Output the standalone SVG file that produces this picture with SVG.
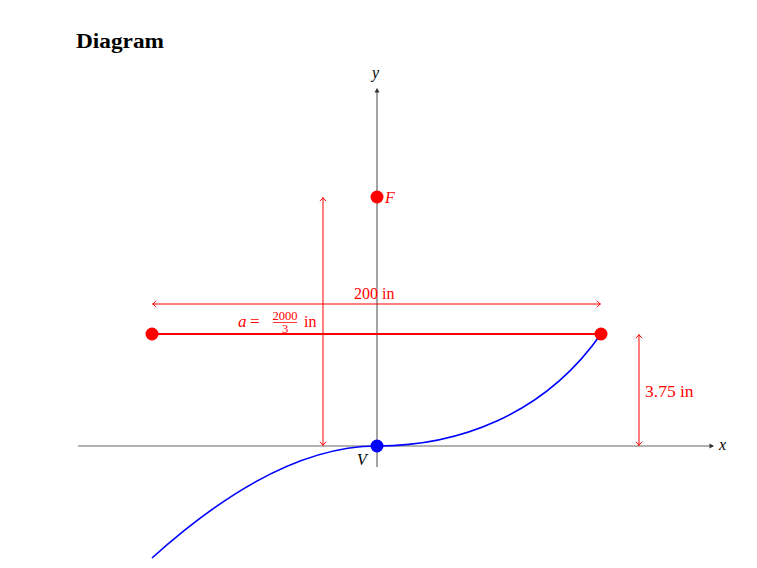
<svg xmlns="http://www.w3.org/2000/svg" width="757" height="568" viewBox="0 0 757 568">
<style>
text{font-family:"Liberation Serif","DejaVu Serif",serif;}
.lbl{fill:#ff0000;}
.it{font-style:italic;}
.dim{stroke:#ff0000;stroke-width:1;fill:none;marker-start:url(#toR);marker-end:url(#toR);}
.axis{stroke:#666;stroke-width:1.2;fill:none;marker-end:url(#toK);}
.pt{fill:#ff0000;}
</style>
<defs>
<marker id="toR" viewBox="-5 -5 10 10" markerWidth="10" markerHeight="10" refX="0" refY="0" orient="auto-start-reverse" markerUnits="userSpaceOnUse">
<path d="M-3,-3.2 Q-1.2,-0.6 0.6,0 Q-1.2,0.6 -3,3.2" stroke="#ff0000" stroke-width="1" fill="none"/>
</marker>
<marker id="toK" viewBox="-5 -5 10 10" markerWidth="10" markerHeight="10" refX="0" refY="0" orient="auto" markerUnits="userSpaceOnUse">
<path d="M-3.5,-2.5 L1,0 L-3.5,2.5 Z" fill="#333"/>
</marker>
</defs>
<rect width="757" height="568" fill="#fff"/>
<text x="76" y="48" font-size="20" font-weight="bold" fill="#000" textLength="88" lengthAdjust="spacingAndGlyphs">Diagram</text>
<g id="axes">
<line class="axis" x1="78" y1="446" x2="713" y2="446"/>
<line class="axis" x1="377" y1="467" x2="377" y2="89"/>
<text x="719" y="450" font-size="16" class="it" fill="#000">x</text>
<text x="372" y="78" font-size="16" class="it" fill="#000">y</text>
</g>
<g id="connectors">
<path id="curve-left" fill="none" stroke="#0000ff" stroke-width="1.6" d="M152,558 C211.8,504.1 294.5,446 377,446"/>
<path id="curve-right" fill="none" stroke="#0000ff" stroke-width="1.6" d="M377,446 C456,446 543,416.7 601,334"/>
<line id="latus-rectum" x1="152" y1="334" x2="601" y2="334" stroke="#ff0000" stroke-width="2"/>
<line id="dim-width" class="dim" x1="153" y1="304" x2="600" y2="304"/>
<line id="dim-a" class="dim" x1="323" y1="198" x2="323" y2="445"/>
<line id="dim-h" class="dim" x1="639" y1="335" x2="639" y2="445"/>
</g>
<g id="labels">
<text class="lbl" x="354" y="299" font-size="16">200 in</text>
<g id="label-a" fill="#ff0000">
<text class="lbl it" x="238" y="327" font-size="17">a</text>
<text class="lbl" x="250" y="327" font-size="17">=</text>
<text x="285" y="319.5" font-size="12.5" fill="#ff0000" text-anchor="middle">2000</text>
<line x1="273" y1="322.5" x2="297" y2="322.5" stroke="#ff0000" stroke-width="0.8"/>
<text x="285" y="332.5" font-size="12.5" fill="#ff0000" text-anchor="middle">3</text>
<text class="lbl" x="304" y="327" font-size="16">in</text>
</g>
<text class="lbl" x="645" y="397" font-size="17.5">3.75 in</text>
</g>
<g id="node-F">
<circle class="pt" cx="377" cy="197" r="6.5"/>
<text class="lbl it" x="385" y="203" font-size="16">F</text>
</g>
<g id="node-L">
<circle class="pt" cx="152" cy="334" r="6.5"/>
</g>
<g id="node-R">
<circle class="pt" cx="601" cy="334" r="6.5"/>
</g>
<g id="node-V">
<circle cx="377" cy="446" r="6.5" fill="#0000ff"/>
<text x="357" y="465" font-size="16" class="it" fill="#000">V</text>
</g>
</svg>
